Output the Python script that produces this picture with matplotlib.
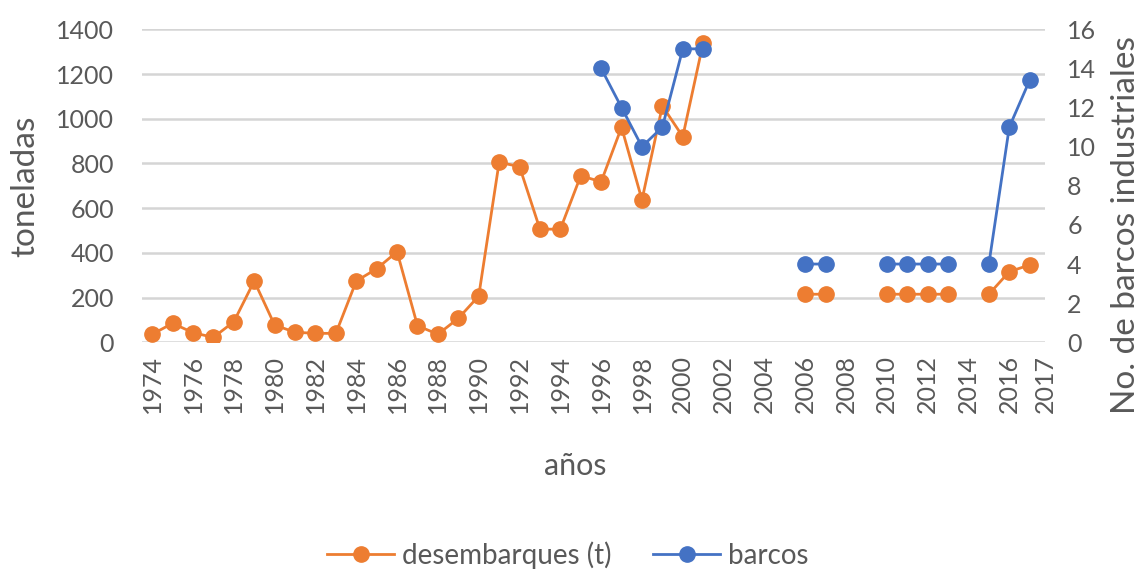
import numpy as np
import matplotlib
matplotlib.use("Agg")
import matplotlib.pyplot as plt

plt.rcParams['font.family'] = ['Lato', 'DejaVu Sans']

nan = np.nan

# años 1974..2017
years = list(range(1974, 2018))

# desembarques (t)
desembarques = [36, 85, 43, 22, 92, 274, 77, 45, 40, 40,
                274, 329, 405, 74, 36, 107, 207, 805, 786, 506,
                506, 745, 718, 962, 637, 1057, 920, 1340, nan, nan,
                nan, nan, 215, 215, nan, nan, 215, 215, 215, 215,
                nan, 215, 316, 346]

# barcos industriales
barcos = [nan] * 22 + [14, 12, 10, 11, 15, 15, nan, nan,
                       nan, nan, 4, 4, nan, nan, 4, 4, 4, 4,
                       nan, 4, 11, 13.4]

xtick_pos = list(range(1974, 2017, 2)) + [2017.75]
xtick_lab = [str(y) for y in range(1974, 2017, 2)] + ["2017"]

ORANGE = "#ED7D31"
BLUE = "#4472C4"
TXT = "#595959"
W, H = 1144, 573
PW, PH = 1045 - 142, 313

fig = plt.figure(figsize=(11.44, 5.73), dpi=100)
ax = fig.add_axes([142/W, 1 - 342.3/H, PW/W, PH/H])
ax2 = ax.twinx()

l1, = ax.plot(years, desembarques, color=ORANGE, lw=2, marker='o', ms=11,
              label='desembarques (t)')
l2, = ax2.plot(years, barcos, color=BLUE, lw=2, marker='o', ms=11,
               label='barcos')

ax.set_xlim(1973.5, 2017.75)
ax.set_ylim(0, 1400)
ax.set_yticks(range(0, 1401, 200))
ax2.set_ylim(0, 16)
ax2.set_yticks(range(0, 17, 2))

ax.grid(axis='y', color='#D5D5D5', lw=1.8)
ax.set_axisbelow(True)
for a in (ax, ax2):
    for s in a.spines.values():
        s.set_visible(False)
    a.tick_params(length=0, labelsize=18, colors=TXT)

ax.set_xticks(xtick_pos)
ax.set_xticklabels(xtick_lab, rotation=90)
ax.tick_params(axis='x', pad=9)
ax.tick_params(axis='y', pad=20)
ax2.tick_params(axis='y', pad=16)

ax.set_xlabel('años', fontsize=22, color=TXT)
ax.xaxis.set_label_coords((575 - 142) / PW, -(452 - 342.3) / PH)
ax.set_ylabel('toneladas', fontsize=24, color=TXT)
ax.yaxis.set_label_coords(-(142 - 40) / PW, (342.3 - 186) / PH)
ax2.set_ylabel('No. de barcos industriales', fontsize=24, color=TXT)
ax2.yaxis.set_label_coords(1 + (1111 - 1045) / PW, (342.3 - 225) / PH)

fig.legend(handles=[l1, l2], loc='center', bbox_to_anchor=(568/W, 1 - 555/H),
           ncol=2, frameon=False, fontsize=20, labelcolor=TXT,
           handlelength=2.4, columnspacing=1.5, handletextpad=0.3)

fig.savefig('out.png', dpi=100)
